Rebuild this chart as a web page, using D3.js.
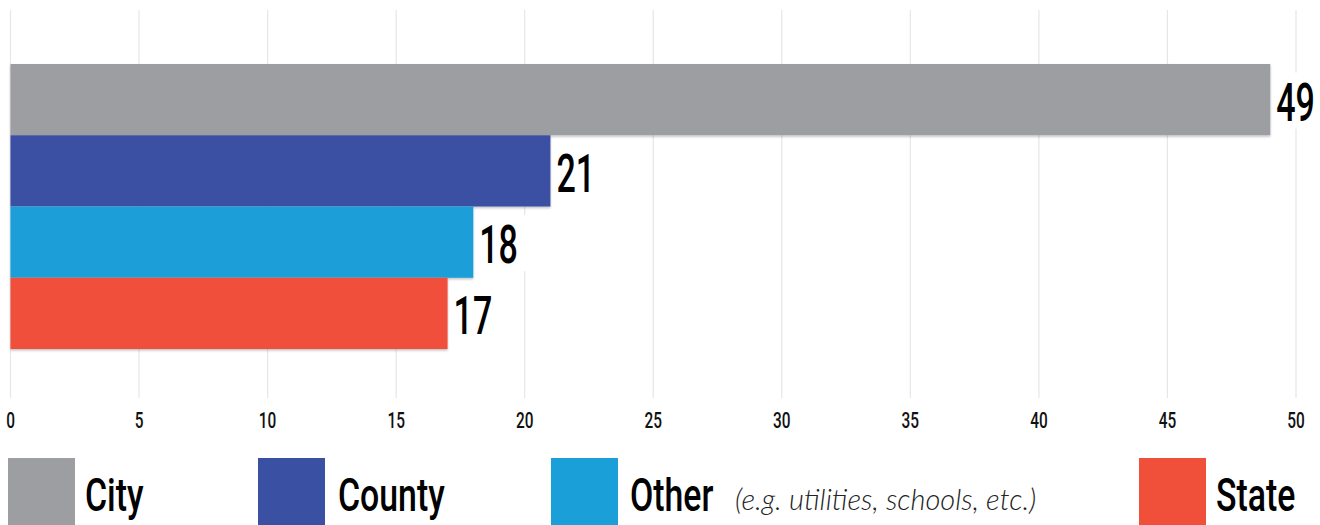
<!DOCTYPE html>
<html>
<head>
<meta charset="utf-8">
<script src="https://cdn.jsdelivr.net/npm/d3@7"></script>
<style>
  html, body { margin: 0; padding: 0; background: #fff; }
  svg { display: block; }
</style>
</head>
<body>
<svg id="chart" width="1320" height="525"></svg>
<script>
// ---- data ----
const categories = ["City", "County", "Other", "State"];
const values = [49, 21, 18, 17];
const colors = ["#9d9ea2", "#3a50a3", "#1a9fd9", "#f0503a"];
const tickValues = [0, 5, 10, 15, 20, 25, 30, 35, 40, 45, 50];
const legendLabels = ["City", "County", "Other", "State"];
const legendNote = "(e.g. utilities, schools, etc.)";

// ---- layout ----
const plotLeft = 10.5, plotRight = 1296, gridTop = 10, gridBottom = 398;
const barTop = 64, barBottom = 349;
const fontFamily = "Roboto, 'Open Sans', 'DejaVu Sans', sans-serif";

const svg = d3.select("#chart");

const defs = svg.append("defs");
const f = defs.append("filter").attr("id", "shadow").attr("x", "-5%").attr("y", "-20%").attr("width", "110%").attr("height", "150%");
f.append("feDropShadow").attr("dx", 0).attr("dy", 1.5).attr("stdDeviation", 1).attr("flood-color", "#000").attr("flood-opacity", 0.25);

const x = d3.scaleLinear().domain([0, 50]).range([plotLeft, plotRight]);
const y = d3.scaleBand().domain(categories).range([barTop, barBottom]).padding(0);
const color = d3.scaleOrdinal().domain(categories).range(colors);

// gridlines
svg.append("g").selectAll("line").data(tickValues).join("line")
  .attr("x1", d => x(d)).attr("x2", d => x(d))
  .attr("y1", gridTop).attr("y2", gridBottom)
  .attr("stroke", "#e6e6e6").attr("stroke-width", 1.2);

// axis tick labels
const axis = d3.axisBottom(x).tickValues(tickValues).tickSize(0).tickPadding(0).tickFormat(d3.format("d"));
const ax = svg.append("g").attr("transform", "translate(0, 428)").call(axis);
ax.select(".domain").remove();
ax.selectAll(".tick").each(function(d) {
  const t = d3.select(this);
  t.attr("transform", `translate(${x(d)},0)`);
  t.select("text")
    .attr("dy", 0).attr("y", 0)
    .attr("font-family", fontFamily).attr("font-weight", 500).attr("font-size", 22)
    .attr("fill", "#111").attr("text-anchor", "middle")
    .attr("transform", "scale(0.7,1)");
});

// bars
const rows = categories.map((c, i) => ({ c, v: values[i] }));
svg.append("g").selectAll("rect").data(rows).join("rect")
  .attr("x", x(0)).attr("y", d => y(d.c))
  .attr("width", d => x(d.v) - x(0)).attr("height", y.bandwidth())
  .attr("fill", d => color(d.c))
  .attr("filter", "url(#shadow)");

// value labels with white background
const lab = svg.append("g").selectAll("g").data(rows).join("g")
  .attr("transform", d => `translate(${x(d.v) + 6}, ${y(d.c) + y.bandwidth() / 2 + 21})`);
lab.append("rect")
  .attr("x", -1).attr("y", -48)
  .attr("height", 56)
  .attr("width", d => String(d.v).length * 20 + 14)
  .attr("fill", "#fff");
lab.append("text")
  .text(d => d.v)
  .attr("transform", "scale(0.63,1)")
  .attr("font-family", fontFamily).attr("font-weight", 500).attr("font-size", 54)
  .attr("fill", "#000");

// legend
const legendSwatchX = [8, 258, 551, 1139];
const legendTextX = [85, 338, 630, 1216];
const legendY = 458, swatch = 67, legendBaseline = 511;
const lg = svg.append("g");
legendLabels.forEach((name, i) => {
  lg.append("rect").attr("x", legendSwatchX[i]).attr("y", legendY)
    .attr("width", swatch).attr("height", swatch).attr("fill", color(categories[i]));
  lg.append("text")
    .attr("transform", `translate(${legendTextX[i]},${legendBaseline}) scale(0.72,1)`)
    .attr("font-family", fontFamily).attr("font-weight", 500).attr("font-size", 47)
    .attr("fill", "#000").text(name);
});
lg.append("text")
  .attr("x", 735).attr("y", 510)
  .attr("font-family", "Lato, 'Open Sans', sans-serif").attr("font-weight", 300)
  .attr("font-style", "italic").attr("font-size", 29)
  .attr("fill", "#222").text(legendNote);
</script>
</body>
</html>
